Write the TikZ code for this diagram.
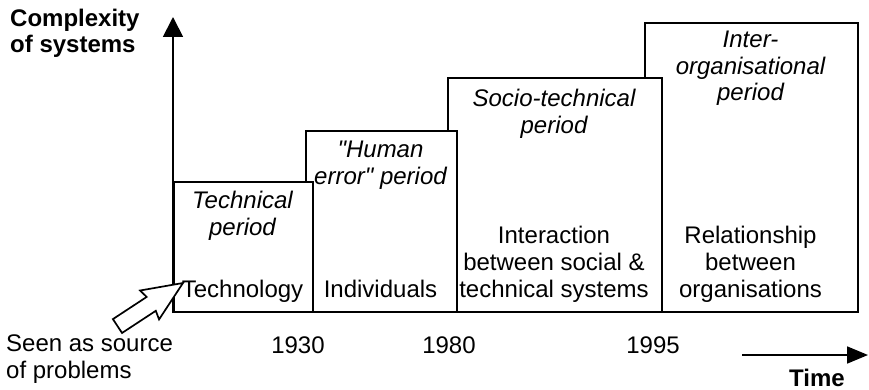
\documentclass[tikz,border=0pt]{standalone}
\usepackage{fontspec}
\setmainfont{Liberation Sans}
% same family without the TeX input mapping, so " stays a straight quote
\newfontfamily\straightq{Liberation Sans}
\newcommand{\sq}{{\straightq\itshape"}}
\usetikzlibrary{arrows.meta}
\begin{document}
\begin{tikzpicture}[x=1pt,y=-1pt,
  lbl/.style={inner sep=0pt, align=center, anchor=base,
    font=\fontsize{24}{27}\selectfont},
  lblit/.style={lbl, font=\fontsize{24}{27}\selectfont\itshape},
  lblbf/.style={lbl, font=\fontsize{24}{26}\selectfont\bfseries},
  periodbox/.style={draw, fill=white, line width=1.7pt, inner sep=0pt,
    anchor=south west},
  axis/.style={line width=1.8pt, -{Triangle[length=20pt,width=20pt]}}]
\useasboundingbox (0,0) rectangle (869,390);

% period boxes, later periods behind earlier ones
\node[periodbox, minimum width=213pt, minimum height=289pt] (inter)  at (644,313) {};
\node[periodbox, minimum width=214pt, minimum height=234pt] (socio)  at (447,313) {};
\node[periodbox, minimum width=151pt, minimum height=181pt] (human)  at (305,313) {};
\node[periodbox, minimum width=139pt, minimum height=130pt] (techb)  at (173,313) {};

% vertical axis
\coordinate (origin) at (173,313);
\coordinate (ytop) at (173,17);
\draw[axis] (origin) -- (ytop);
% (multi-line labels are placed by the baseline of their last line)
\node[lblbf, anchor=base west, align=left] (ylabel) at (10,53) {Complexity\\of systems};

% period titles
\node[lblit] (ttech)  at (242.5,235) {Technical\\period};
\node[lblit] (thuman) at (380.5,185) {\sq Human\\error\sq{} period};
\node[lblit] (tsocio) at (554,134) {Socio-technical\\period};
\node[lblit, font=\fontsize{24}{26.5}\selectfont\itshape] (tinter) at (750.5,101) {Inter-\\organisational\\period};

% sources of problems
\node[lbl] (stech)  at (242.5,297) {Technology};
\node[lbl] (shuman) at (380.5,297) {Individuals};
\node[lbl] (ssocio) at (554,297) {Interaction\\between social \&\\technical systems};
\node[lbl] (sinter) at (750.5,297) {Relationship\\between\\organisations};

% years
\node[lbl] (y1930) at (298,353) {1930};
\node[lbl] (y1980) at (449,353) {1980};
\node[lbl] (y1995) at (653,353) {1995};

% time arrow
\coordinate (t0) at (742,355);
\coordinate (t1) at (868,355);
\draw[line width=1.8pt, -{Triangle[length=21pt,width=17pt]}] (t0) -- (t1);
\node[lblbf] (time) at (817,386) {Time};

% hollow pointer to the technology cell
\node[lbl, anchor=base west, align=left] (seen) at (6,378) {Seen as source\\of problems};
\coordinate (ptip) at (183,283);
\begin{scope}[shift={(ptip)}, rotate=33.3]
  \draw[line width=1.7pt, fill=white, line join=miter]
    (0,0) -- (-40,17.3) -- (-38,8.3) -- (-78.4,8.3) -- (-78.4,-8.3)
    -- (-38,-8.3) -- (-40,-17.3) -- cycle;
\end{scope}
\end{tikzpicture}
\end{document}
